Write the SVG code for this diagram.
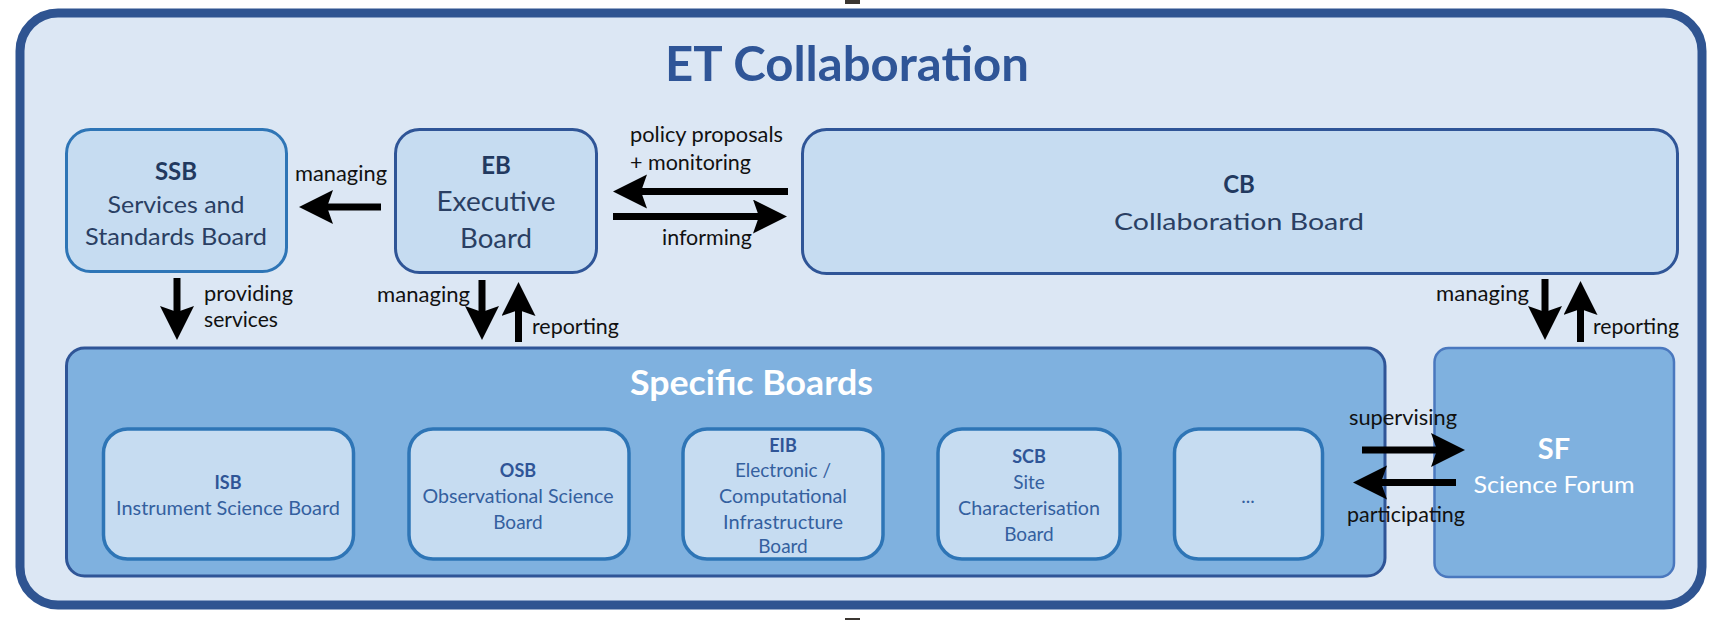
<svg xmlns="http://www.w3.org/2000/svg" width="1714" height="620" viewBox="0 0 1714 620">
<style>
text{font-family:Lato,"Liberation Sans",sans-serif}
.outer{fill:#DCE7F4;stroke:#2F5491;stroke-width:9}
.top{fill:#C6DCF1;stroke:#2F5597;stroke-width:3}
.ssb{fill:#C6DCF1;stroke:#2E75B6;stroke-width:3}
.spec{fill:#7FB1DF;stroke:#2F5597;stroke-width:3}
.sf{fill:#7FB1DF;stroke:#4A78BE;stroke-width:2.5}
.inner{fill:#C6DCF1;stroke:#2E75B6;stroke-width:3.5}
.title{font-weight:bold;font-size:47px;fill:#2F5597}
.hd{font-weight:bold;font-size:24px;fill:#22395F;text-anchor:middle}
.bd{font-size:24px;fill:#2A3F63;text-anchor:middle}
.ihd{font-weight:bold;font-size:18px;fill:#2F5597;text-anchor:middle}
.ibd{font-size:19px;fill:#34609F;text-anchor:middle}
.wh{fill:#FFFFFF;text-anchor:middle}
.lbl{font-size:22px;fill:#111111}
.conn line{stroke:#000;stroke-width:7;marker-end:url(#ah)}
</style>
<defs>
<marker id="ah" markerUnits="userSpaceOnUse" markerWidth="36" markerHeight="36" refX="10" refY="17" orient="auto">
<path d="M0,0 L34,17 L0,34 L6,17 Z" fill="#000"/>
</marker>
</defs>

<rect x="845" y="0" width="15" height="4" fill="#3B3631"/>
<rect x="845" y="618" width="15" height="2" fill="#3B3631"/>

<g id="et-collaboration">
<rect class="outer" x="20" y="13" width="1682" height="592" rx="38"/>
<text class="title" x="665" y="81" textLength="364" lengthAdjust="spacingAndGlyphs">ET Collaboration</text>
</g>

<g id="ssb">
<rect class="ssb" x="66.5" y="129.5" width="220" height="142" rx="24"/>
<text class="hd" x="176" y="180">SSB</text>
<text class="bd" x="176" y="213" textLength="137" lengthAdjust="spacingAndGlyphs">Services and</text>
<text class="bd" x="176" y="245" textLength="182" lengthAdjust="spacingAndGlyphs">Standards Board</text>
</g>

<g id="eb">
<rect class="top" x="395.5" y="129.5" width="201" height="143" rx="24"/>
<text class="hd" x="496" y="174">EB</text>
<text class="bd" x="496" y="211" style="font-size:26px" textLength="119" lengthAdjust="spacingAndGlyphs">Executive</text>
<text class="bd" x="496" y="248" style="font-size:26px" textLength="72" lengthAdjust="spacingAndGlyphs">Board</text>
</g>

<g id="cb">
<rect class="top" x="802.5" y="129.5" width="875" height="144" rx="24"/>
<text class="hd" x="1239" y="193">CB</text>
<text class="bd" x="1239" y="230" textLength="250" lengthAdjust="spacingAndGlyphs">Collaboration Board</text>
</g>

<g id="specific-boards">
<rect class="spec" x="66.5" y="348" width="1318.5" height="228" rx="18"/>
<text class="wh" x="751.5" y="395" style="font-weight:bold;font-size:35px" textLength="243" lengthAdjust="spacingAndGlyphs">Specific Boards</text>
</g>

<g id="isb">
<rect class="inner" x="103.5" y="429" width="250" height="130" rx="24"/>
<text class="ihd" x="228" y="489">ISB</text>
<text class="ibd" x="228" y="515" textLength="224" lengthAdjust="spacingAndGlyphs">Instrument Science Board</text>
</g>

<g id="osb">
<rect class="inner" x="409" y="429" width="220" height="130" rx="24"/>
<text class="ihd" x="518" y="477">OSB</text>
<text class="ibd" x="518" y="503" textLength="191" lengthAdjust="spacingAndGlyphs">Observational Science</text>
<text class="ibd" x="518" y="529">Board</text>
</g>

<g id="eib">
<rect class="inner" x="683" y="429" width="200" height="130" rx="24"/>
<text class="ihd" x="783" y="452">EIB</text>
<text class="ibd" x="783" y="477" textLength="96" lengthAdjust="spacingAndGlyphs">Electronic /</text>
<text class="ibd" x="783" y="503" textLength="128" lengthAdjust="spacingAndGlyphs">Computational</text>
<text class="ibd" x="783" y="529" textLength="120" lengthAdjust="spacingAndGlyphs">Infrastructure</text>
<text class="ibd" x="783" y="553">Board</text>
</g>

<g id="scb">
<rect class="inner" x="938" y="429" width="182" height="130" rx="24"/>
<text class="ihd" x="1029" y="463">SCB</text>
<text class="ibd" x="1029" y="489">Site</text>
<text class="ibd" x="1029" y="515" textLength="142" lengthAdjust="spacingAndGlyphs">Characterisation</text>
<text class="ibd" x="1029" y="541">Board</text>
</g>

<g id="more">
<rect class="inner" x="1174.5" y="429" width="148" height="130" rx="24"/>
<text class="ibd" x="1248" y="503">...</text>
</g>

<g id="sf">
<rect class="sf" x="1434.5" y="348" width="239.5" height="229" rx="14"/>
<text class="wh" x="1554" y="459" style="font-weight:bold;font-size:29px">SF</text>
<text class="wh" x="1554" y="493" style="font-size:23px" textLength="161" lengthAdjust="spacingAndGlyphs">Science Forum</text>
</g>

<g id="connectors" class="conn">
<line x1="381" y1="207" x2="323" y2="207"/>
<line x1="788" y1="191.5" x2="637" y2="191.5"/>
<line x1="613" y1="216.5" x2="763" y2="216.5"/>
<line x1="177" y1="278" x2="177" y2="316"/>
<line x1="482" y1="280" x2="482" y2="316"/>
<line x1="518.5" y1="342" x2="518.5" y2="306"/>
<line x1="1545" y1="279" x2="1545" y2="316"/>
<line x1="1580.5" y1="342" x2="1580.5" y2="305"/>
<line x1="1362" y1="450" x2="1441" y2="450"/>
<line x1="1456" y1="482.5" x2="1377" y2="482.5"/>
</g>

<g id="labels">
<text class="lbl" x="295" y="181" textLength="92" lengthAdjust="spacingAndGlyphs">managing</text>
<text class="lbl" x="630" y="142" textLength="153" lengthAdjust="spacingAndGlyphs">policy proposals</text>
<text class="lbl" x="630" y="170" textLength="121" lengthAdjust="spacingAndGlyphs">+ monitoring</text>
<text class="lbl" x="662" y="245" textLength="90" lengthAdjust="spacingAndGlyphs">informing</text>
<text class="lbl" x="204" y="301" textLength="89" lengthAdjust="spacingAndGlyphs">providing</text>
<text class="lbl" x="204" y="327" textLength="74" lengthAdjust="spacingAndGlyphs">services</text>
<text class="lbl" x="377" y="302" textLength="93" lengthAdjust="spacingAndGlyphs">managing</text>
<text class="lbl" x="532" y="334" textLength="87" lengthAdjust="spacingAndGlyphs">reporting</text>
<text class="lbl" x="1436" y="301" textLength="93" lengthAdjust="spacingAndGlyphs">managing</text>
<text class="lbl" x="1593" y="334" textLength="86" lengthAdjust="spacingAndGlyphs">reporting</text>
<text class="lbl" x="1349" y="425" textLength="108" lengthAdjust="spacingAndGlyphs">supervising</text>
<text class="lbl" x="1347" y="522" textLength="118" lengthAdjust="spacingAndGlyphs">participating</text>
</g>
</svg>
